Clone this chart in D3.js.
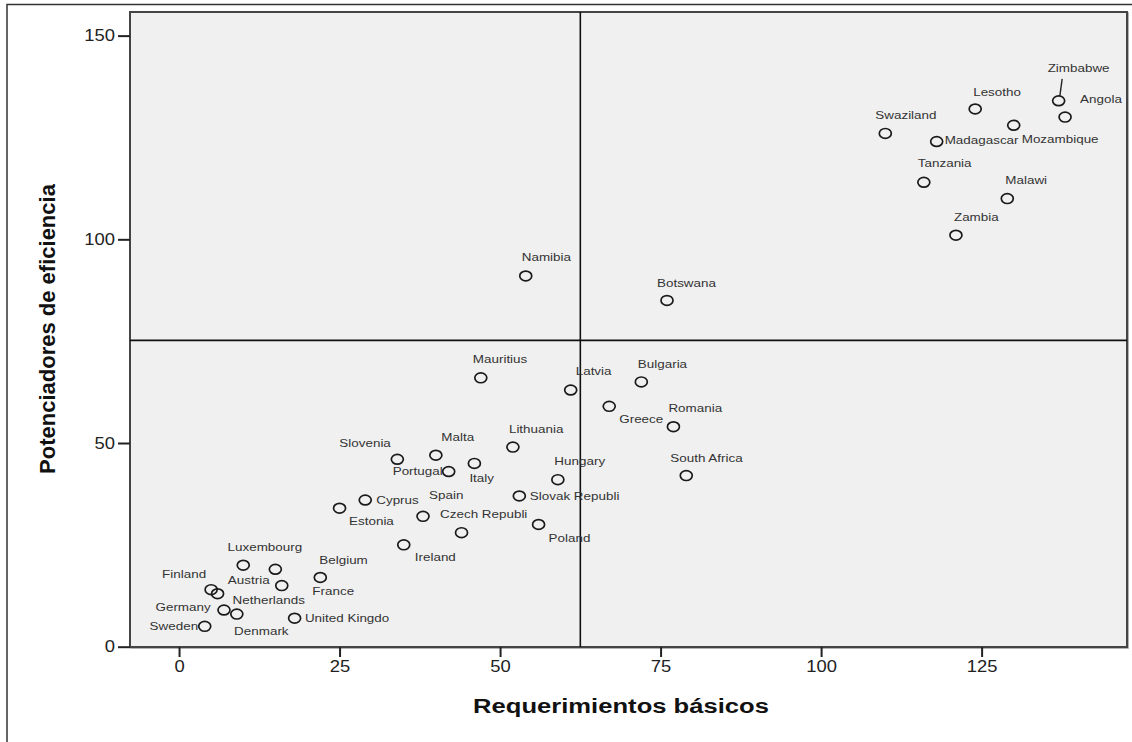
<!DOCTYPE html>
<html><head><meta charset="utf-8">
<script src="https://cdn.jsdelivr.net/npm/d3@7"></script>
<style>
html,body{margin:0;padding:0;background:#fff;}
svg{display:block;}
</style></head>
<body>
<svg id="chart" width="1132" height="742"></svg>
<script>
// ---- data ----
const countries = ["Zimbabwe","Angola","Lesotho","Mozambique","Swaziland","Madagascar","Tanzania","Malawi","Zambia",
  "Namibia","Botswana","Mauritius","Latvia","Bulgaria","Greece","Romania","Lithuania","Malta","Slovenia","Italy",
  "Portugal","Hungary","South Africa","Slovak Republi","Cyprus","Estonia","Spain","Czech Republi","Poland","Ireland",
  "Belgium","Luxembourg","Austria","France","Finland","Netherlands","Germany","Denmark","Sweden","United Kingdo"];
const basicRequirements = [137,138,124,130,110,118,116,129,121,
  54,76,47,61,72,67,77,52,40,34,46,
  42,59,79,53,29,25,38,44,56,35,
  22,10,15,16,5,6,7,9,4,18];
const efficiencyEnhancers = [134,130,132,128,126,124,114,110,101,
  91,85,66,63,65,59,54,49,47,46,45,
  43,41,42,37,36,34,32,28,30,25,
  17,20,19,15,14,13,9,8,5,7];
const xTicks = [0,25,50,75,100,125];
const yTicks = [0,50,100,150];
const xReference = 62.5;
const yReference = 75.2;
const xTitle = "Requerimientos básicos";
const yTitle = "Potenciadores de eficiencia";

// ---- label layout (pixel offsets from marker: dx, dy, anchor) ----
const labelLayout = [[-11,-32,"start"],[15,-18,"start"],[-2,-17,"start"],[8,14,"start"],[-10,-18.5,"start"],[8,-1.5,"start"],[-6,-18.5,"start"],[-2,-18.5,"start"],[-2,-18,"start"],
  [-4,-18.5,"start"],[-10,-17.5,"start"],[-8,-18.5,"start"],[5,-19,"start"],[-3.5,-17.5,"start"],[10,12.5,"start"],[-5,-18.5,"start"],[-4,-18,"start"],[5.5,-17.5,"start"],[-6.5,-15.5,"end"],[-5,14.5,"start"],
  [-6,0,"end"],[-3.5,-18.5,"start"],[-16,-17,"start"],[10.5,0,"start"],[11,0,"start"],[9.5,13.5,"start"],[6,-21,"start"],[-21.5,-18,"start"],[10,13.5,"start"],[11,12.5,"start"],
  [-1,-17.3,"start"],[-15.7,-17.7,"start"],[-5.7,11.4,"end"],[30.6,6,"start"],[-5,-15,"end"],[15,6.7,"start"],[-13.3,-2.3,"end"],[-2.7,17.7,"start"],[-6.6,0,"end"],[10.3,0,"start"]];

const svg = d3.select("#chart");
const L = 130, R = 1127, T = 12, B = 647;
const x = d3.scaleLinear().domain([-7.7, 147.8]).range([129.6, 1128]);
const y = d3.scaleLinear().domain([0, 155.8]).range([646.7, 12]);

// outer frame (cropped)
svg.append("path").attr("d", `M7,742 V4.5 H1132`).attr("fill","none").attr("stroke","#333").attr("stroke-width",1.5);

// plot background and frame
svg.append("rect").attr("x",L+1).attr("y",T+1).attr("width",R-L).attr("height",B-T)
  .attr("fill","none").attr("stroke","#999").attr("stroke-width",1.5);
svg.append("rect").attr("x",L).attr("y",T).attr("width",R-L).attr("height",B-T)
  .attr("fill","#f0f0f0").attr("stroke","#444").attr("stroke-width",2);

// axes
const yAxis = svg.append("g").attr("transform",`translate(${L},0)`)
  .call(d3.axisLeft(y).tickValues(yTicks).tickSize(12).tickPadding(3).tickFormat(d3.format("d")));
const xAxis = svg.append("g").attr("transform",`translate(0,${B})`)
  .call(d3.axisBottom(x).tickValues(xTicks).tickSize(10).tickPadding(4).tickFormat(d3.format("d")));
[yAxis,xAxis].forEach(g=>{
  g.select(".domain").remove();
  g.selectAll(".tick line").attr("stroke","#222").attr("stroke-width",2);
  g.selectAll(".tick text").attr("fill","#222").style("font-family","Arial, 'Liberation Sans', sans-serif").style("font-size","16px");
});
yAxis.selectAll(".tick text").attr("x", -15/1.15).attr("transform","scale(1.15,1)");
xAxis.selectAll(".tick text").attr("transform","scale(1.15,1)");

// reference lines
svg.append("line").attr("x1",x(xReference)).attr("x2",x(xReference)).attr("y1",T).attr("y2",B)
  .attr("stroke","#111").attr("stroke-width",1.6);
svg.append("line").attr("x1",L).attr("x2",R).attr("y1",y(yReference)).attr("y2",y(yReference))
  .attr("stroke","#111").attr("stroke-width",1.6);

// points
const pts = countries.map((c,i)=>({name:c, bx:basicRequirements[i], ey:efficiencyEnhancers[i], lay:labelLayout[i]}));
svg.append("g").selectAll("ellipse").data(pts).join("ellipse")
  .attr("cx",d=>x(d.bx)).attr("cy",d=>y(d.ey)).attr("rx",6).attr("ry",4.9)
  .attr("fill","none").attr("stroke","#1a1a1a").attr("stroke-width",1.7);

// labels
const lab = svg.append("g").selectAll("g").data(pts).join("g")
  .attr("transform",d=>`translate(${x(d.bx)+d.lay[0]},${y(d.ey)+d.lay[1]})`);
lab.append("text").attr("transform","scale(1.28,1)").attr("dy","0.35em")
  .attr("text-anchor",d=>d.lay[2])
  .style("font-family","Arial, 'Liberation Sans', sans-serif").style("font-size","10.5px").attr("fill","#333")
  .text(d=>d.name);

// leader line for Zimbabwe
const zi = countries.indexOf("Zimbabwe");
svg.append("line").attr("x1",x(basicRequirements[zi])+3.5).attr("y1",y(efficiencyEnhancers[zi])-22)
  .attr("x2",x(basicRequirements[zi])+1.2).attr("y2",y(efficiencyEnhancers[zi])-5)
  .attr("stroke","#222").attr("stroke-width",1.4);

// titles
svg.append("g").attr("transform","translate(621,706)").append("text")
  .attr("transform","scale(1.28,1)").attr("text-anchor","middle").attr("dy","0.35em")
  .style("font-family","Arial, 'Liberation Sans', sans-serif").style("font-size","20px").style("font-weight","bold").attr("fill","#111")
  .text(xTitle);
svg.append("text").attr("transform","translate(47,329) rotate(-90)").attr("text-anchor","middle").attr("dy","0.35em")
  .style("font-family","Arial, 'Liberation Sans', sans-serif").style("font-size","22px").style("font-weight","bold").attr("fill","#111")
  .text(yTitle);
</script>
</body></html>
